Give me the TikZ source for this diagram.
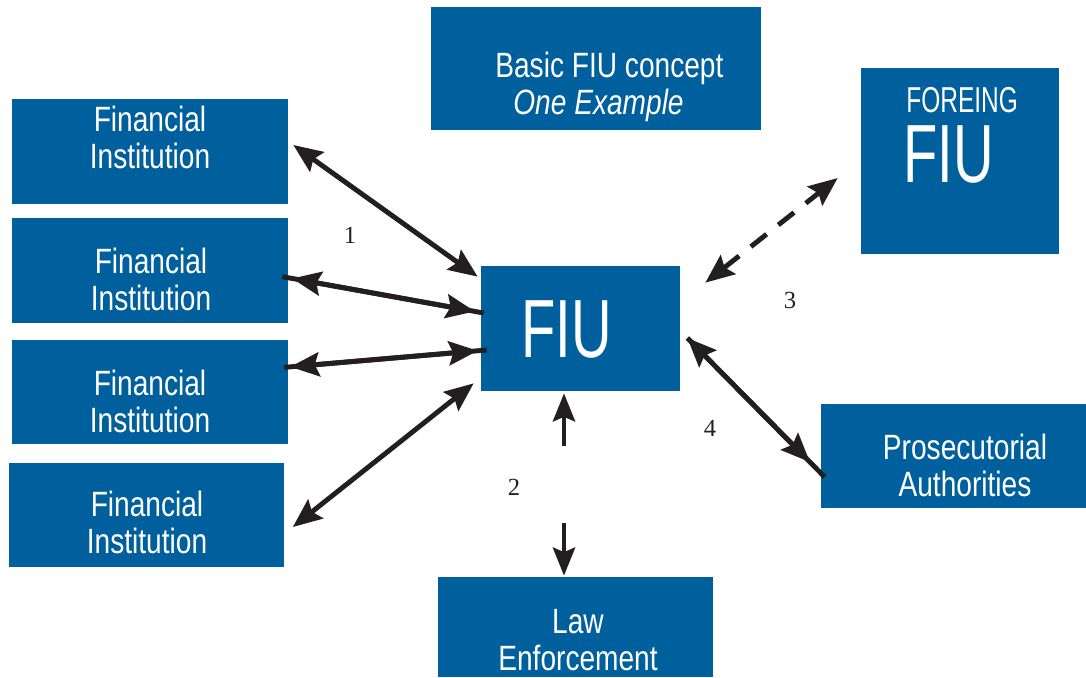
\documentclass[tikz,border=0pt]{standalone}
\usepackage{fontspec}
\setmainfont{Liberation Sans}[FakeStretch=0.8]
\newfontfamily\capfont{Liberation Sans}[FakeStretch=0.68]
\newfontfamily\numfont{Liberation Serif}
\definecolor{fiublue}{RGB}{0, 96, 158}
\definecolor{inkblack}{RGB}{35, 31, 32}
\usetikzlibrary{arrows.meta, positioning, calc}
\tikzset{
	block/.style={rectangle, draw=none, fill=fiublue, inner sep=0pt},
	fiblock/.style={block, minimum width=5.52cm, minimum height=2.1cm},
	blocktext/.style={text=white, align=center, inner sep=0pt, font=\fontsize{20}{21}\selectfont},
	bigtext/.style={blocktext, font=\capfont\fontsize{47}{47}\selectfont},
	numtext/.style={inner sep=0pt, text=inkblack, font=\numfont\fontsize{14}{16}\selectfont},
	link/.style={{Stealth[length=5.8mm, width=4.8mm, inset=0.9mm]}-{Stealth[length=5.8mm, width=4.8mm, inset=0.9mm]}, line width=2.8pt, draw=inkblack},
	oneway/.style={-{Stealth[length=5.6mm, width=4.4mm, inset=0.9mm]}, line width=2.8pt, draw=inkblack},
	dashlink/.style={link, dash pattern=on 0.4cm off 0.3cm},
	stub/.style={line width=2.8pt, draw=inkblack},
}
\begin{document}
\begin{tikzpicture}[x=0.02cm, y=-0.02cm]
	\useasboundingbox (0,0) rectangle (1086,677);
	\node[block, minimum width=6.6cm, minimum height=2.46cm] (basic) at (596,68.5) {};
	\node[fiblock] (fi1) at (150,151.5) {};
	\node[fiblock, below=0.26cm of fi1] (fi2) {};
	\node[fiblock, below=0.34cm of fi2, minimum height=2.08cm] (fi3) {};
	\node[fiblock, below=0.36cm of fi3, xshift=-0.07cm, minimum height=2.08cm] (fi4) {};
	\node[block, minimum width=3.98cm, minimum height=2.5cm] (fiu) at (580.5,328.5) {};
	\node[block, minimum width=3.96cm, minimum height=3.72cm] (ffiu) at (960,161) {};
	\node[block, minimum width=5.3cm, minimum height=2.08cm] (pros) at (953.5,456) {};
	\node[block, minimum width=5.5cm, minimum height=2cm] (law) at (575.5,627) {};
	\node[blocktext, align=left, anchor=north west] (basict) at (495,52) {Basic FIU concept\\\hspace*{0.36cm}\textit{One Example}};
	\node[blocktext] (fi1t) at (150,137) {Financial\\Institution};
	\node[blocktext] (fi2t) at (151,279) {Financial\\Institution};
	\node[blocktext] (fi3t) at (150,401) {Financial\\Institution};
	\node[blocktext] (fi4t) at (147,522) {Financial\\Institution};
	\node[bigtext] (fiut) at (566.5,329) {FIU};
	\node[blocktext, font=\capfont\fontsize{20.5}{21}\selectfont, anchor=north west] (ffiut1) at (906,87) {FOREING};
	\node[bigtext, anchor=north west] (ffiut2) at (903,125) {FIU};
	\node[blocktext] (prost) at (965,465) {Prosecutorial\\Authorities};
	\node[blocktext] (lawt) at (578,640) {Law\\Enforcement};
	\node[numtext] (n1) at (350,235) {1};
	\node[numtext] (n2) at (514,487) {2};
	\node[numtext] (n3) at (790,300) {3};
	\node[numtext] (n4) at (710,428) {4};
	\coordinate (lawup) at (564,446);
	\coordinate (lawdown) at (564,523);
	\draw[link] ($(fi1.east)+(5,-6.5)$) -- ($(fiu.north west)+(-3,11)$);
	\draw[stub] ($(fi2.east)+(-6,6.5)$) -- ($(fiu.west)+(3,-15.5)$);
	\draw[link, shorten <=0.2cm, shorten >=0.18cm] ($(fi2.east)+(-6,6.5)$) -- ($(fiu.west)+(3,-15.5)$);
	\draw[stub] ($(fi3.east)+(-4,-25)$) -- ($(fiu.west)+(6,21.5)$);
	\draw[link, shorten <=0.12cm, shorten >=0.18cm] ($(fi3.east)+(-4,-25)$) -- ($(fiu.west)+(6,21.5)$);
	\draw[link] ($(fi4.east)+(8,12)$) -- ($(fiu.south west)+(-7,-8)$);
	\draw[oneway] (lawup) -- ($(fiu.south)+(-16.5,2)$);
	\draw[oneway] (lawdown) -- ($(law.north)+(-11.5,-1)$);
	\draw[dashlink] ($(fiu.north east)+(25,17)$) -- ($(ffiu.west)+(-23,17)$);
	\draw[stub] ($(fiu.east)+(7,9.5)$) -- ($(pros.west)+(4,21)$);
	\draw[link, shorten >=0.42cm] ($(fiu.east)+(7,9.5)$) -- ($(pros.west)+(4,21)$);
\end{tikzpicture}
\end{document}
